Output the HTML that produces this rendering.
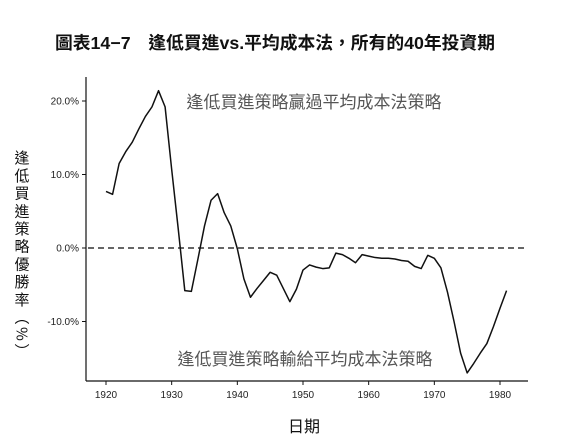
<!DOCTYPE html>
<html><head><meta charset="utf-8"><style>
body{margin:0;background:#fff;width:571px;height:441px;overflow:hidden;font-family:"Liberation Sans","Noto Sans CJK TC",sans-serif}
</style></head><body>
<svg width="571" height="441" xmlns="http://www.w3.org/2000/svg">
<text x="55" y="49" font-size="17.5" font-weight="bold" fill="#111" textLength="440" lengthAdjust="spacingAndGlyphs" font-family="Liberation Sans, Noto Sans CJK TC, sans-serif">圖表14−7　逢低買進vs.平均成本法，所有的40年投資期</text>
<g id="axes"></g>
<text x="314" y="108" font-size="17" fill="#555" text-anchor="middle" font-family="Liberation Sans, Noto Sans CJK TC, sans-serif">逢低買進策略贏過平均成本法策略</text>
<text x="305" y="365" font-size="17" fill="#555" text-anchor="middle" font-family="Liberation Sans, Noto Sans CJK TC, sans-serif">逢低買進策略輸給平均成本法策略</text>
<text x="304" y="432" font-size="16" fill="#111" text-anchor="middle" font-family="Liberation Sans, Noto Sans CJK TC, sans-serif">日期</text>
<text x="22" y="150" font-size="15" fill="#111" style="writing-mode:vertical-rl;letter-spacing:2.7px" font-family="Noto Sans CJK TC, sans-serif">逢低買進策略優勝率（%）</text>
</svg>
<script>
const years=[1920,1921,1922,1923,1924,1925,1926,1927,1928,1929,1930,1931,1932,1933,1934,1935,1936,1937,1938,1939,1940,1941,1942,1943,1944,1945,1946,1947,1948,1949,1950,1951,1952,1953,1954,1955,1956,1957,1958,1959,1960,1961,1962,1963,1964,1965,1966,1967,1968,1969,1970,1971,1972,1973,1974,1975,1976,1977,1978,1979,1980,1981];
const values=[7.7,7.3,11.5,13.1,14.4,16.2,17.9,19.2,21.4,19.2,10.7,2.6,-5.8,-5.9,-1.5,3.0,6.5,7.4,4.8,3.0,-0.1,-4.2,-6.7,-5.5,-4.4,-3.3,-3.7,-5.5,-7.3,-5.6,-3.0,-2.3,-2.6,-2.8,-2.7,-0.7,-0.9,-1.4,-2.0,-0.9,-1.1,-1.3,-1.4,-1.4,-1.5,-1.7,-1.8,-2.5,-2.8,-1.0,-1.4,-2.7,-6.0,-10.0,-14.3,-17.0,-15.7,-14.3,-13.0,-10.7,-8.2,-5.8];
const xTicks=[1920,1930,1940,1950,1960,1970,1980];
const yTicks=[20,10,0,-10];
const yTickLabels=["20.0%","10.0%","0.0%","-10.0%"];
const X=v=>106+(v-1920)*(394/60);
const Y=v=>248-v*7.35;
const NS="http://www.w3.org/2000/svg";
const g=document.getElementById('axes');
function mk(t,a){const e=document.createElementNS(NS,t);for(const k in a)e.setAttribute(k,a[k]);g.appendChild(e);return e;}
let e=mk('line',{x1:86,y1:77,x2:86,y2:381,stroke:'#111','stroke-width':1.2});


e=mk('line',{x1:86,y1:381,x2:528,y2:381,stroke:'#111','stroke-width':1.2});


xTicks.forEach(t=>{
 let l=mk('line',{x1:X(t),y1:381,x2:X(t),y2:385,stroke:'#111'});
 
 
 let s=mk('text',{x:X(t),y:398,'font-size':10,'text-anchor':'middle',fill:'#222'});s.textContent=t;
 
 
});
yTicks.forEach((t,i)=>{
 let l=mk('line',{x1:82,y1:Y(t),x2:86,y2:Y(t),stroke:'#111'});
 
 
 let s=mk('text',{x:79,y:Y(t)+3.5,'font-size':10,'text-anchor':'end',fill:'#222'});s.textContent=yTickLabels[i];
 
 
});
e=mk('line',{x1:88,y1:Y(0),x2:528,y2:Y(0),stroke:'#333','stroke-width':1.5,'stroke-dasharray':'6,4'});


e=mk('polyline',{points:years.map((y,i)=>X(y)+','+Y(values[i])).join(' '),fill:'none',stroke:'#111','stroke-width':1.5,'stroke-linejoin':'round'});


</script>
</body></html>
